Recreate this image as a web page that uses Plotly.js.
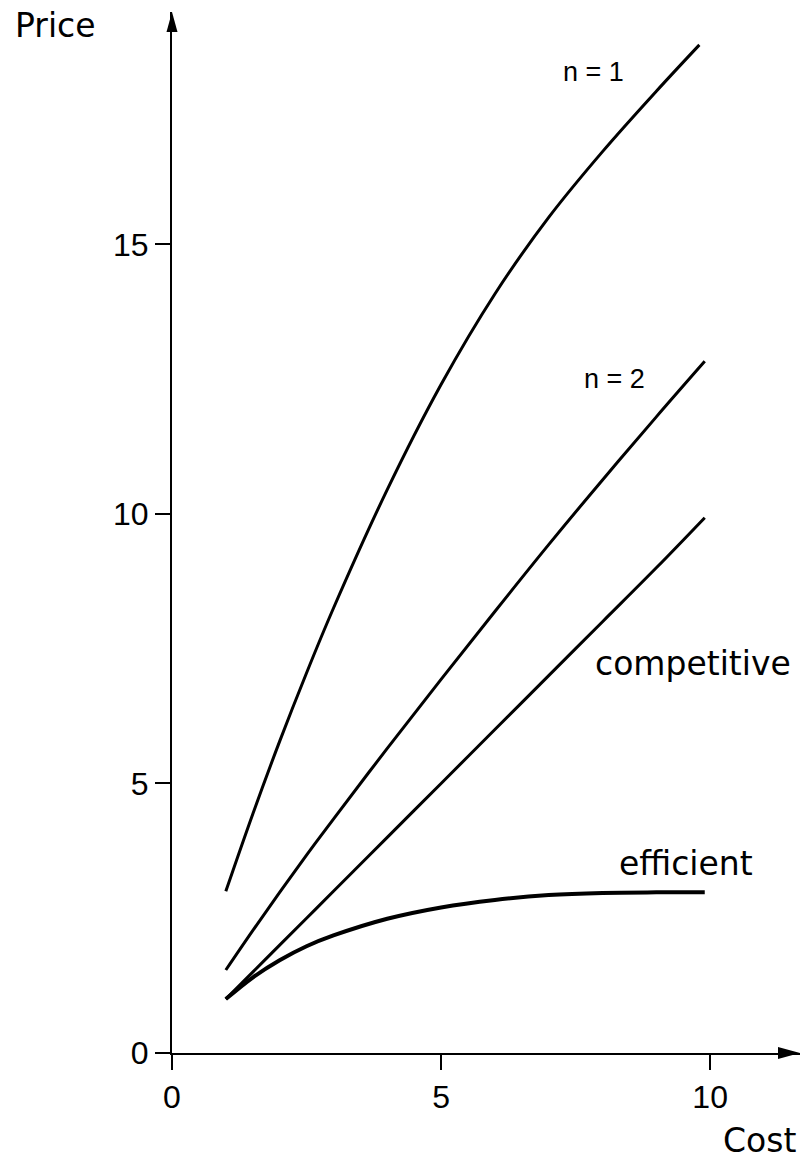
<!DOCTYPE html>
<html>
<head>
<meta charset="utf-8">
<script src="https://cdn.plot.ly/plotly-3.0.1.min.js"></script>
<style>html,body{margin:0;padding:0;background:#fff;}#chart{width:806px;height:1163px;}</style>
</head>
<body>
<div id="chart"></div>
<script>
// ---- data ----
var costMono = [1, 1.5, 2, 2.5, 3, 4, 5, 6, 7, 8, 9, 9.8];
var priceN1 = [3.0, 4.43, 5.78, 7.05, 8.25, 10.45, 12.4, 14.08, 15.5, 16.72, 17.84, 18.7];

var cost = [1, 1.5, 2, 2.5, 3, 4, 5, 6, 7, 8, 9, 9.9];
var priceN2 = [1.54, 2.27, 2.98, 3.67, 4.34, 5.65, 6.93, 8.19, 9.43, 10.63, 11.8, 12.83];
var priceCompetitive = [1, 1.5, 2, 2.5, 3, 4, 5, 6, 7, 8, 9, 9.93];
var priceEfficient = [1.0, 1.4, 1.72, 1.98, 2.18, 2.49, 2.7, 2.84, 2.93, 2.97, 2.98, 2.98];

var xTicks = [0, 5, 10];
var yTicks = [0, 5, 10, 15];
var xTitle = "Cost";
var yTitle = "Price";
var curveLabels = ["n = 1", "n = 2", "competitive", "efficient"];

// ---- layout ----
var xMax = 11.67, yMax = 19.31;
var plotW = 628, plotH = 1041;
var numFont = {family: "Liberation Sans, Arial, sans-serif", size: 32, color: "#000"};
var wordFont = {family: "DejaVu Sans, sans-serif", size: 33, color: "#000"};
var nFont = {family: "Liberation Sans, Arial, sans-serif", size: 27, color: "#000"};

function line(x, y, w) {
  return {x: x, y: y, type: "scatter", mode: "lines",
    line: {color: "#000", width: w, shape: "spline", smoothing: 1},
    hoverinfo: "skip", showlegend: false, cliponaxis: false};
}

var traces = [
  line(costMono, priceN1, 3),
  line(cost, priceN2, 3),
  line(cost, priceCompetitive, 3),
  line(cost, priceEfficient, 4)
];

// arrowheads at the axis ends (decoration), sized in pixels, in paper units
var shapes = [
  {type: "path", xref: "paper", yref: "paper", layer: "above",
   path: "M 1 0 L " + (1 - 22 / plotW) + " " + (6 / plotH) + " L " + (1 - 22 / plotW) + " " + (-6 / plotH) + " Z",
   fillcolor: "#000", line: {width: 0}},
  {type: "path", xref: "paper", yref: "paper", layer: "above",
   path: "M 0 1 L " + (-5.5 / plotW) + " " + (1 - 20 / plotH) + " L " + (5.5 / plotW) + " " + (1 - 20 / plotH) + " Z",
   fillcolor: "#000", line: {width: 0}}
];

var annotations = [
  {text: yTitle, xref: "paper", yref: "paper", x: -0.2532, y: 0.9875, xanchor: "left", yanchor: "middle", font: wordFont},
  {text: xTitle, xref: "paper", yref: "paper", x: 0.9968, y: -0.0836, xanchor: "right", yanchor: "middle", font: wordFont},
  {text: curveLabels[0], xref: "x", yref: "y", x: 7.83, y: 18.2, xanchor: "center", yanchor: "middle", font: nFont},
  {text: curveLabels[1], xref: "x", yref: "y", x: 8.22, y: 12.5, xanchor: "center", yanchor: "middle", font: nFont},
  {text: curveLabels[2], xref: "x", yref: "y", x: 9.68, y: 7.22, xanchor: "center", yanchor: "middle", font: wordFont},
  {text: curveLabels[3], xref: "x", yref: "y", x: 9.56, y: 3.51, xanchor: "center", yanchor: "middle", font: wordFont}
].map(function (a) { a.showarrow = false; return a; });

var layout = {
  width: 806, height: 1163,
  margin: {l: 172, r: 6, t: 12, b: 110},
  paper_bgcolor: "#fff", plot_bgcolor: "#fff",
  showlegend: false,
  xaxis: {range: [0, xMax], tickmode: "array", tickvals: xTicks, ticktext: xTicks.map(String),
    showgrid: false, zeroline: false, showline: true, linecolor: "#000", linewidth: 2,
    ticks: "outside", ticklen: 15, tickwidth: 2, tickcolor: "#000", tickfont: numFont, fixedrange: true},
  yaxis: {range: [0, yMax], tickmode: "array", tickvals: yTicks, ticktext: yTicks.map(String),
    showgrid: false, zeroline: false, showline: true, linecolor: "#000", linewidth: 2,
    ticks: "outside", ticklen: 15, tickwidth: 2, tickcolor: "#000", tickfont: numFont, fixedrange: true},
  shapes: shapes,
  annotations: annotations
};

Plotly.newPlot("chart", traces, layout, {staticPlot: true, displayModeBar: false});
</script>
</body>
</html>
